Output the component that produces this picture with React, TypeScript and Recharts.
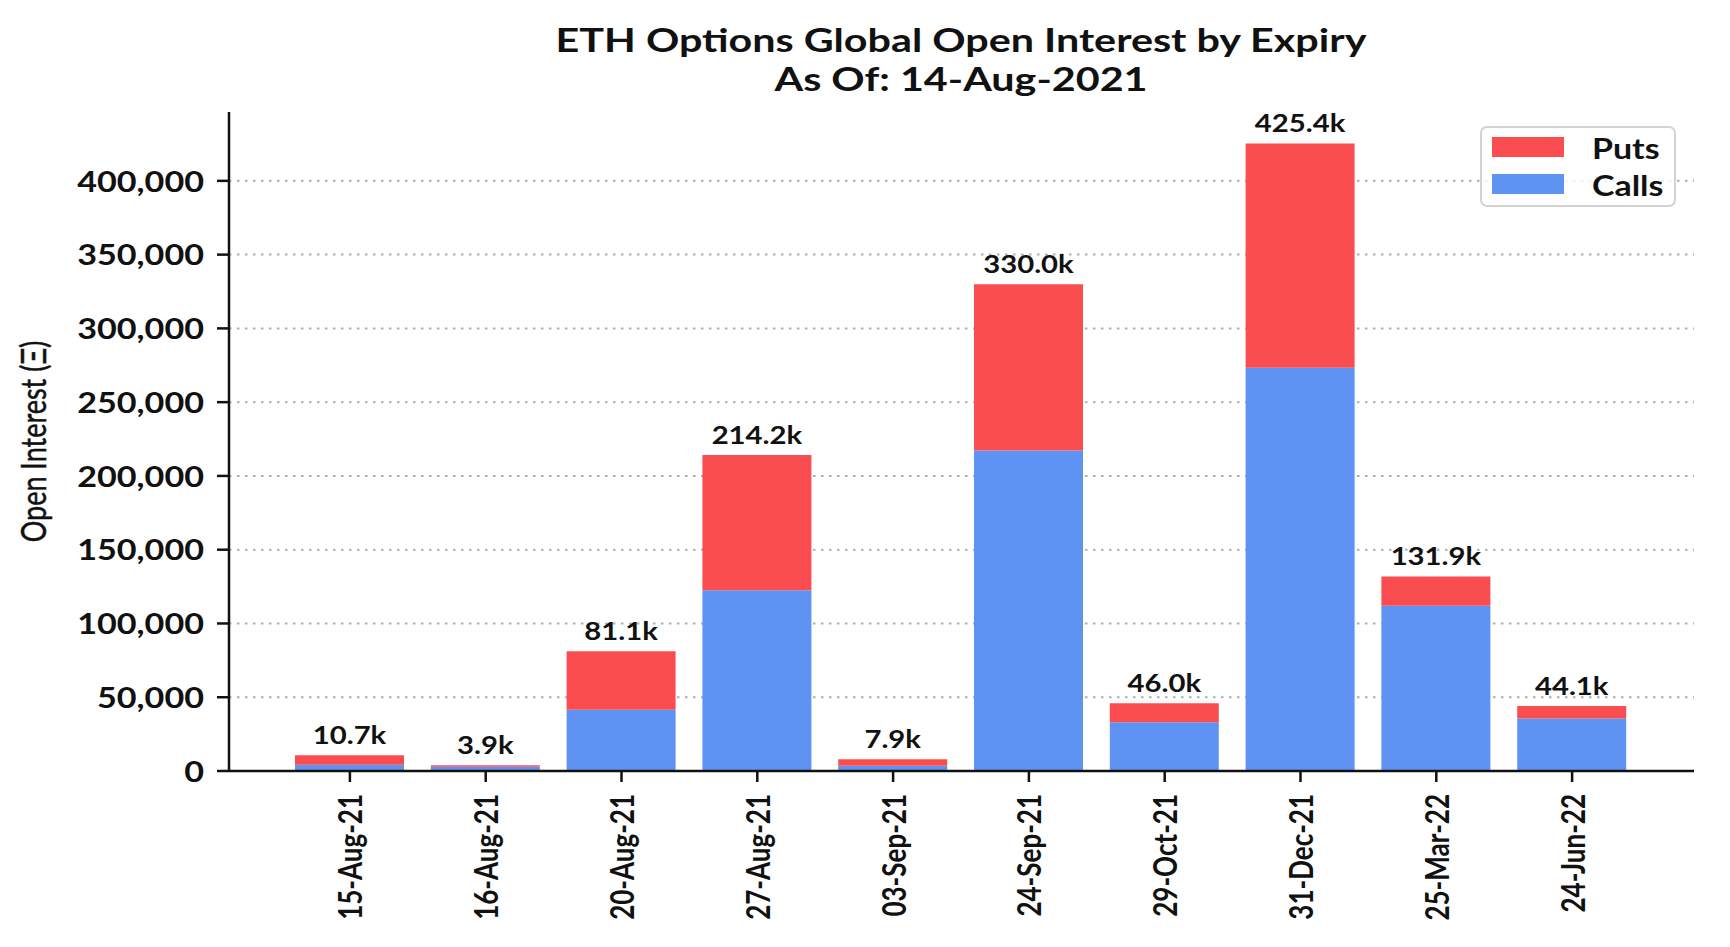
import React from 'react';
import {
  BarChart,
  Bar,
  XAxis,
  YAxis,
  CartesianGrid,
  Legend,
  LabelList,
  Customized,
} from 'recharts';

const expiries = [
  '15-Aug-21',
  '16-Aug-21',
  '20-Aug-21',
  '27-Aug-21',
  '03-Sep-21',
  '24-Sep-21',
  '29-Oct-21',
  '31-Dec-21',
  '25-Mar-22',
  '24-Jun-22',
];
const calls = [4200, 2800, 41500, 122500, 3600, 217300, 33000, 273400, 112000, 35600];
const puts = [6500, 1100, 39600, 91700, 4300, 112700, 13000, 152000, 19900, 8500];
const yTicks = [0, 50000, 100000, 150000, 200000, 250000, 300000, 350000, 400000];
const yMax = 446670;

const PUTS_COLOR = '#fa4d4f';
const CALLS_COLOR = '#5f93f3';
const FONT = 'Lato, "Noto Sans", sans-serif';
const STRETCH = 1.22;

const data = expiries.map((expiry, i) => ({
  expiry,
  calls: calls[i],
  puts: puts[i],
  total: calls[i] + puts[i],
}));

function YTick(props: any) {
  const { x, y, payload } = props;
  return (
    <text
      transform={`translate(${x},${y}) scale(${STRETCH},1)`}
      textAnchor="end"
      dominantBaseline="central"
      fontFamily={FONT}
      fontWeight={700}
      fontSize={28}
      fill="#111"
    >
      {Number(payload.value).toLocaleString('en-US')}
    </text>
  );
}

function XTick(props: any) {
  const { x, y, payload } = props;
  return (
    <text
      transform={`translate(${x},${y}) scale(${STRETCH},1) rotate(-90)`}
      textAnchor="end"
      dominantBaseline="central"
      fontFamily={FONT}
      fontWeight={700}
      fontSize={26}
      fill="#111"
    >
      {payload.value}
    </text>
  );
}

function TotalLabel(props: any) {
  const { x, y, width, value } = props;
  const cx = Number(x) + Number(width) / 2;
  return (
    <text
      transform={`translate(${cx},${Number(y) - 11}) scale(${STRETCH},1)`}
      textAnchor="middle"
      fontFamily={FONT}
      fontWeight={700}
      fontSize={24}
      fill="#111"
    >
      {(Number(value) / 1000).toFixed(1)}k
    </text>
  );
}

function YAxisTitle(props: any) {
  const { viewBox } = props;
  const cy = viewBox.y + viewBox.height / 2;
  return (
    <text
      transform={`translate(33,${cy}) scale(1.3,1) rotate(-90)`}
      textAnchor="middle"
      dominantBaseline="central"
      fontFamily={FONT}
      fontWeight={400}
      fontSize={27}
      fill="#111"
      stroke="#111"
      strokeWidth={0.4}
    >
      Open Interest (Ξ)
    </text>
  );
}

function Title() {
  return (
    <g fontFamily={FONT} fontWeight={700} fontSize={32} fill="#111">
      <text transform="translate(961,40) scale(1.29,1)" textAnchor="middle" dominantBaseline="central">
        ETH Options Global Open Interest by Expiry
      </text>
      <text transform="translate(961,79) scale(1.29,1)" textAnchor="middle" dominantBaseline="central">
        As Of: 14-Aug-2021
      </text>
    </g>
  );
}

function LegendBox(props: any) {
  const items = [...(props.payload || [])].reverse();
  return (
    <div
      style={{
        boxSizing: 'border-box',
        width: 196,
        height: 81,
        border: '2.5px solid #d3d3d3',
        borderRadius: 7,
        background: 'rgba(255,255,255,0.8)',
        position: 'relative',
        fontFamily: FONT,
      }}
    >
      {items.map((item: any, i: number) => (
        <div key={item.value}>
          <div
            style={{
              position: 'absolute',
              left: 10,
              top: 9 + i * 37,
              width: 72,
              height: 20,
              background: item.color,
            }}
          />
          <div
            style={{
              position: 'absolute',
              left: 110,
              top: 19 + i * 37,
              transform: `translateY(-50%) scaleX(1.17)`,
              transformOrigin: 'left center',
              fontSize: 29,
              fontWeight: 700,
              lineHeight: 1,
              color: '#111',
              whiteSpace: 'nowrap',
            }}
          >
            {item.value}
          </div>
        </div>
      ))}
    </div>
  );
}

export default function App() {
  return (
    <div style={{ position: 'absolute', left: 0, top: 0, width: 1730, height: 947, background: '#fff' }}>
      <BarChart width={1730} height={947} data={data} margin={{ top: 112, right: 36, bottom: 0, left: 0 }}>
        <CartesianGrid
          vertical={false}
          horizontalValues={yTicks}
          stroke="#a9b0b8"
          strokeWidth={2}
          strokeDasharray="2.5 5.5"
        />
        <XAxis
          dataKey="expiry"
          height={176}
          interval={0}
          padding={{ left: 53, right: 54 }}
          tickSize={11}
          tickMargin={12}
          axisLine={{ stroke: '#111', strokeWidth: 2.5 }}
          tickLine={{ stroke: '#111', strokeWidth: 2.5 }}
          tick={(p: any) => <XTick {...p} />}
        />
        <YAxis
          width={229}
          domain={[0, yMax]}
          ticks={yTicks}
          interval={0}
          tickSize={12}
          tickMargin={13}
          axisLine={{ stroke: '#111', strokeWidth: 2.5 }}
          tickLine={{ stroke: '#111', strokeWidth: 2.5 }}
          tick={(p: any) => <YTick {...p} />}
          label={{ value: 'Open Interest (Ξ)', content: (p: any) => <YAxisTitle {...p} /> }}
        />
        <Legend
          layout="horizontal"
          align="center"
          verticalAlign="middle"
          wrapperStyle={{ left: 1480, top: 126, width: 196, height: 81 }}
          content={(p: any) => <LegendBox {...p} />}
        />
        <Bar dataKey="calls" name="Calls" stackId="oi" fill={CALLS_COLOR} barSize={109} isAnimationActive={false} />
        <Bar dataKey="puts" name="Puts" stackId="oi" fill={PUTS_COLOR} barSize={109} isAnimationActive={false}>
          <LabelList dataKey="total" content={(p: any) => <TotalLabel {...p} />} />
        </Bar>
        <Customized component={() => <Title />} />
      </BarChart>
    </div>
  );
}
